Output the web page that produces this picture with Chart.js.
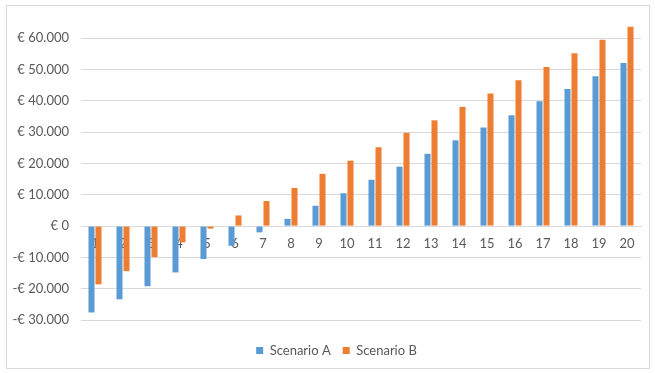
<!DOCTYPE html>
<html>
<head>
<meta charset="utf-8">
<script src="https://cdn.jsdelivr.net/npm/chart.js@4/dist/chart.umd.min.js"></script>
<style>
  html, body { margin: 0; padding: 0; background: #fff; }
  #wrap { position: relative; width: 655px; height: 373px; }
  #frame { position: absolute; left: 6px; top: 5px; width: 644px; height: 364px;
           border: 1px solid #d9d9d9; box-sizing: border-box; pointer-events: none; }
</style>
</head>
<body>
<div id="wrap">
  <canvas id="c" width="655" height="373"></canvas>
  <div id="frame"></div>
</div>
<script>
// Years 1..20 and the cumulative result of each scenario (euro)
const years = ['1','2','3','4','5','6','7','8','9','10','11','12','13','14','15','16','17','18','19','20'];
const scenarioA = [-27600, -23400, -19200, -14800, -10500, -6300, -2000, 2300, 6500, 10500,
                   14800, 19000, 23100, 27400, 31500, 35400, 39900, 43800, 47900, 52100];
const scenarioB = [-18600, -14400, -9900, -5200, -800, 3400, 8000, 12200, 16700, 20900,
                   25200, 29800, 33800, 38100, 42400, 46600, 50800, 55200, 59500, 63700];
const seriesNames = ['Scenario A', 'Scenario B'];

const textColor = '#595959';
const gridColor = '#d9d9d9';
const fontFamily = 'Lato, "Open Sans", sans-serif';

function euro(v) {
  const abs = Math.abs(v).toLocaleString('de-DE');
  return (v < 0 ? '-€ ' : '€ ') + abs;
}

// Nudges the legend block to its place under the plot
const legendOffset = {
  id: 'legendOffset',
  afterInit(chart, args, opts) {
    const lg = chart.legend;
    const orig = lg.draw.bind(lg);
    lg.draw = function () {
      const ctx = chart.ctx;
      ctx.save();
      ctx.translate(opts.dx || 0, opts.dy || 0);
      orig();
      ctx.restore();
    };
  }
};

new Chart(document.getElementById('c'), {
  type: 'bar',
  data: {
    labels: years,
    datasets: [
      { label: seriesNames[0], data: scenarioA, backgroundColor: '#5b9bd5',
        barPercentage: 0.86, categoryPercentage: 0.5 },
      { label: seriesNames[1], data: scenarioB, backgroundColor: '#ed7d31',
        barPercentage: 0.86, categoryPercentage: 0.5 }
    ]
  },
  plugins: [legendOffset],
  options: {
    responsive: false,
    animation: false,
    layout: { padding: { left: 0, right: 14, top: 7, bottom: 18 } },
    plugins: {
      tooltip: { enabled: false },
      legendOffset: { dx: 16, dy: 12 },
      legend: {
        position: 'bottom',
        labels: {
          boxWidth: 7, boxHeight: 7, color: textColor, padding: 12,
          font: { family: fontFamily, size: 13 }
        }
      }
    },
    scales: {
      x: {
        position: { y: 0 },
        grid: { display: false, drawTicks: false },
        border: { display: true, color: gridColor },
        ticks: { color: textColor, padding: 10, maxRotation: 0,
                 font: { family: fontFamily, size: 13 } }
      },
      y: {
        min: -30000, max: 70000,
        afterFit: (s) => { s.width = 81; s.paddingTop = 0; s.paddingBottom = 0; },
        grid: {
          drawTicks: false,
          color: (ctx) => (ctx.tick && ctx.tick.value === 70000 ? 'rgba(0,0,0,0)' : gridColor)
        },
        border: { display: false },
        ticks: {
          stepSize: 10000, padding: 12, color: textColor,
          font: { family: fontFamily, size: 13 },
          callback: (v) => (v === 70000 ? '' : euro(v))
        }
      }
    }
  }
});
</script>
</body>
</html>
